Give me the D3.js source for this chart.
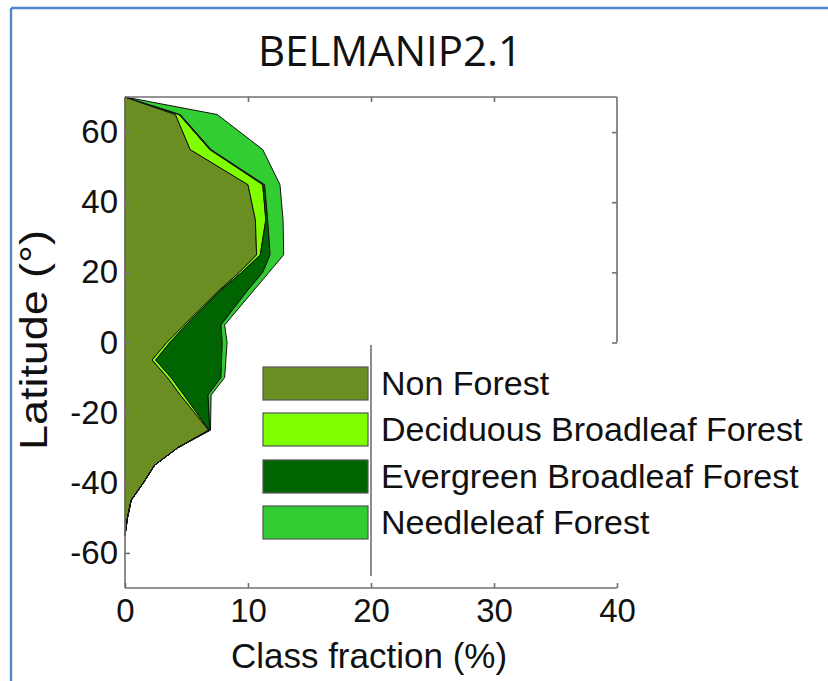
<!DOCTYPE html>
<html>
<head>
<meta charset="utf-8">
<script src="https://cdn.jsdelivr.net/npm/d3@7/dist/d3.min.js"></script>
<style>
  html, body { margin: 0; padding: 0; background: #ffffff; }
  svg { display: block; }
</style>
</head>
<body>
<svg id="chart" width="828" height="681"></svg>
<script>
// ---- data ----
const latitudes      = [70, 65, 55, 45, 35, 25, 20, 15, 5, 0, -5, -10, -15, -25, -30, -35, -40, -45, -50, -55];
const nonForest      = [0, 4.1, 5.3, 10.0, 10.6, 10.7, 9.3, 7.7, 4.8, 3.4, 2.2, 3.45, 4.5, 6.8, 4.3, 2.4, 1.5, 0.5, 0.2, 0];
const deciduousBF    = [0, 0.3, 1.6, 1.2, 0.85, 0.3, 0.2, 0.1, 0.15, 0.25, 0.3, 0.3, 0.3, 0.05, 0, 0, 0, 0, 0, 0];
const evergreenBF    = [0, 0.1, 0.1, 0.15, 0.15, 0.8, 1.7, 2.2, 2.85, 4.25, 5.35, 4.05, 1.95, 0.05, 0, 0, 0, 0, 0, 0];
const needleleaf     = [0, 3.0, 4.2, 1.25, 1.25, 1.1, 0.5, 0.5, 0.3, 0.4, 0.35, 0.3, 0.25, 0.05, 0, 0, 0, 0, 0, 0];

const seriesNames  = ["Non Forest", "Deciduous Broadleaf Forest", "Evergreen Broadleaf Forest", "Needleleaf Forest"];
const seriesColors = ["#6b8e23", "#7fff00", "#006400", "#32cd32"];
const xTicks = [0, 10, 20, 30, 40];
const yTicks = [-60, -40, -20, 0, 20, 40, 60];
const titleText = "BELMANIP2.1";
const xLabel = "Class fraction (%)";
const yLabel = "Latitude (\u00B0)";

// ---- build table ----
const seriesValues = [nonForest, deciduousBF, evergreenBF, needleleaf];
const table = latitudes.map((lat, i) => {
  const row = { lat };
  seriesNames.forEach((n, k) => { row[n] = seriesValues[k][i]; });
  return row;
});

const svg = d3.select("#chart");
const x = d3.scaleLinear().domain([0, 40]).range([125, 617]);
const y = d3.scaleLinear().domain([-70, 70]).range([588, 97]);
const axisColor = "#707070";

// blue frame
svg.append("line").attr("x1", 11).attr("y1", 8).attr("x2", 828).attr("y2", 8)
  .attr("stroke", "#5287d0").attr("stroke-width", 2.4);
svg.append("line").attr("x1", 11).attr("y1", 8).attr("x2", 11).attr("y2", 681)
  .attr("stroke", "#5287d0").attr("stroke-width", 2.4);

// title
svg.append("text").attr("x", 390).attr("y", 66)
  .attr("text-anchor", "middle")
  .attr("font-family", "'Open Sans', 'Noto Sans', sans-serif")
  .attr("font-size", 42)
  .attr("textLength", 264)
  .attr("fill", "#111")
  .text(titleText);

// stacked areas
const stack = d3.stack().keys(seriesNames);
const layers = stack(table);
const area = d3.area()
  .y(d => y(d.data.lat))
  .x0(d => x(d[0]))
  .x1(d => x(d[1]));

svg.append("g").selectAll("path")
  .data(layers)
  .join("path")
  .attr("d", area)
  .attr("fill", (d, i) => seriesColors[i])
  .attr("stroke", "#111")
  .attr("stroke-width", 1)
  .attr("stroke-linejoin", "round");

// frame lines
const frame = svg.append("g").attr("stroke", axisColor).attr("stroke-width", 1.6).attr("fill", "none");
frame.append("line").attr("x1", x(0)).attr("x2", x(0)).attr("y1", y(70)).attr("y2", y(-70));
frame.append("line").attr("x1", x(0)).attr("x2", x(40)).attr("y1", y(-70)).attr("y2", y(-70));
frame.append("line").attr("x1", x(0)).attr("x2", x(40)).attr("y1", y(70)).attr("y2", y(70));
frame.append("line").attr("x1", x(40)).attr("x2", x(40)).attr("y1", y(70)).attr("y2", y(0));

const tickFont = "'Liberation Sans', Arial, sans-serif";

// left axis
const gy = svg.append("g").attr("transform", `translate(${x(0)},0)`)
  .call(d3.axisLeft(y).tickValues(yTicks).tickSizeInner(-5).tickSizeOuter(0).tickPadding(7).tickFormat(d3.format("d")));
gy.select(".domain").remove();
gy.selectAll(".tick line").attr("stroke", axisColor).attr("stroke-width", 1.6);
gy.selectAll(".tick text").attr("font-family", tickFont).attr("font-size", 33).attr("fill", "#111")
  .text(d => String(d));

// bottom axis
const gx = svg.append("g").attr("transform", `translate(0,${y(-70)})`)
  .call(d3.axisBottom(x).tickValues(xTicks).tickSizeInner(-5).tickSizeOuter(0).tickPadding(11));
gx.select(".domain").remove();
gx.selectAll(".tick line").attr("stroke", axisColor).attr("stroke-width", 1.6);
gx.selectAll(".tick text").attr("font-family", tickFont).attr("font-size", 33).attr("fill", "#111");

// top axis ticks (no labels)
const gt = svg.append("g").attr("transform", `translate(0,${y(70)})`)
  .call(d3.axisTop(x).tickValues(xTicks.slice(1, -1)).tickSizeInner(-5).tickSizeOuter(0).tickFormat(""));
gt.select(".domain").remove();
gt.selectAll(".tick line").attr("stroke", axisColor).attr("stroke-width", 1.6);

// right axis ticks (upper part only)
const gr = svg.append("g").attr("transform", `translate(${x(40)},0)`)
  .call(d3.axisRight(y).tickValues(yTicks.filter(v => v >= 0)).tickSizeInner(-5).tickSizeOuter(0).tickFormat(""));
gr.select(".domain").remove();
gr.selectAll(".tick line").attr("stroke", axisColor).attr("stroke-width", 1.6);

// axis labels
svg.append("text").attr("x", 369).attr("y", 668).attr("text-anchor", "middle")
  .attr("font-family", tickFont).attr("font-size", 35).attr("fill", "#111").text(xLabel);
svg.append("text").attr("transform", "translate(47,340) rotate(-90) scale(1.18,1)").attr("text-anchor", "middle")
  .attr("font-family", tickFont).attr("font-size", 38).attr("fill", "#111").text(yLabel);

// legend
svg.append("line").attr("x1", x(20)).attr("x2", x(20)).attr("y1", 345).attr("y2", 576)
  .attr("stroke", axisColor).attr("stroke-width", 1.6);
const legendTop = [367, 413, 460, 506];
const lg = svg.append("g");
seriesNames.forEach((n, i) => {
  lg.append("rect").attr("x", 263).attr("y", legendTop[i]).attr("width", 105).attr("height", 33)
    .attr("fill", seriesColors[i]).attr("stroke", "#555").attr("stroke-width", 1.2);
  lg.append("text").attr("x", 381).attr("y", legendTop[i] + 28)
    .attr("font-family", tickFont).attr("font-size", 34).attr("fill", "#111").text(n);
});
</script>
</body>
</html>
